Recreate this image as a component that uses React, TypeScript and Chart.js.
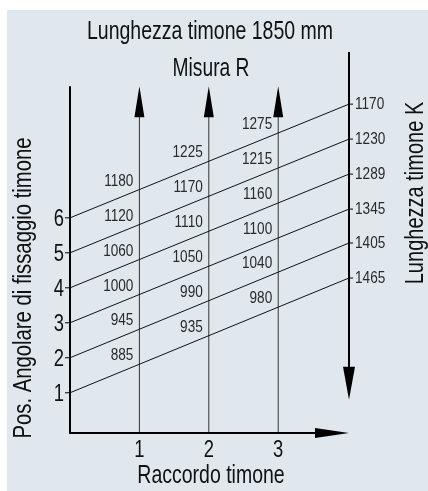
import React, { useEffect, useRef } from "react";
import { Chart, registerables } from "chart.js";

Chart.register(...registerables);

// ---- data ----
const TITLE = "Lunghezza timone 1850 mm";
const SUBTITLE = "Misura R";
const X_TITLE = "Raccordo timone";
const Y_TITLE = "Pos. Angolare di fissaggio timone";
const K_TITLE = "Lunghezza timone K";

const R_COLUMNS = [1, 2, 3];
const Y_TICKS = [1, 2, 3, 4, 5, 6];
const LINE_START = [1, 2, 3, 4, 5, 6];
const LINE_END = [4.28, 5.28, 6.25, 7.25, 8.25, 9.25];
const K_VALUES = [1465, 1405, 1345, 1289, 1230, 1170];
const R_AT_1 = [885, 945, 1000, 1060, 1120, 1180];
const R_AT_2 = [935, 990, 1050, 1110, 1170, 1225];
const R_AT_3 = [980, 1040, 1100, 1160, 1215, 1275];
const R_LABELS = [R_AT_1, R_AT_2, R_AT_3];

// ---- geometry in value space ----
const X_MIN = 0;
const K_AXIS_X = 4.02;
const Y_MIN = -0.15;
const Y_MAX = 10.74;
const ARROW_TIP_Y = 9.76;
const DOWN_TIP_Y = 0.8;

const FONT = '"Liberation Sans", Arial, sans-serif';
const BG = "#e0e8ee";

const lineAt = (i: number, x: number) =>
  LINE_START[i] + ((LINE_END[i] - LINE_START[i]) * x) / K_AXIS_X;

function drawText(
  ctx: CanvasRenderingContext2D,
  str: string,
  x: number,
  y: number,
  size: number,
  sx: number,
  align: CanvasTextAlign,
  baseline: CanvasTextBaseline,
  rot = 0
) {
  ctx.save();
  ctx.translate(x, y);
  if (rot) ctx.rotate(rot);
  ctx.scale(sx, 1);
  ctx.font = `${size}px ${FONT}`;
  ctx.textAlign = align;
  ctx.textBaseline = baseline;
  ctx.fillText(str, 0, 0);
  ctx.restore();
}

const decorPlugin = {
  id: "decor",
  beforeDraw(chart: any) {
    const ctx = chart.ctx;
    ctx.save();
    ctx.fillStyle = BG;
    ctx.fillRect(7, 10, chart.width - 7, chart.height - 10);
    ctx.restore();
  },
  afterDraw(chart: any) {
    const ctx = chart.ctx;
    const xs = chart.scales.x;
    const ys = chart.scales.y;
    const px = (v: number) => xs.getPixelForValue(v);
    const py = (v: number) => ys.getPixelForValue(v);
    ctx.save();

    // axes
    ctx.strokeStyle = "#000";
    ctx.lineWidth = 2;
    ctx.beginPath();
    ctx.moveTo(px(X_MIN), py(ARROW_TIP_Y));
    ctx.lineTo(px(X_MIN), py(Y_MIN));
    ctx.lineTo(px(K_AXIS_X) - 10, py(Y_MIN));
    ctx.stroke();
    ctx.beginPath();
    ctx.moveTo(px(K_AXIS_X), ys.top);
    ctx.lineTo(px(K_AXIS_X), py(DOWN_TIP_Y) - 10);
    ctx.stroke();

    ctx.fillStyle = "#000";
    // bottom arrow
    {
      const tx = px(K_AXIS_X), ty = py(Y_MIN);
      ctx.beginPath();
      ctx.moveTo(tx, ty);
      ctx.lineTo(tx - 34, ty - 5);
      ctx.lineTo(tx - 34, ty + 5);
      ctx.closePath();
      ctx.fill();
    }
    // down arrow on K axis
    {
      const tx = px(K_AXIS_X), ty = py(DOWN_TIP_Y);
      ctx.beginPath();
      ctx.moveTo(tx, ty);
      ctx.lineTo(tx - 6, ty - 33);
      ctx.lineTo(tx + 6, ty - 33);
      ctx.closePath();
      ctx.fill();
    }
    // up arrows on R columns
    R_COLUMNS.forEach((c) => {
      const tx = px(c), ty = py(ARROW_TIP_Y);
      ctx.beginPath();
      ctx.moveTo(tx, ty);
      ctx.lineTo(tx - 5, ty + 31);
      ctx.lineTo(tx + 5, ty + 31);
      ctx.closePath();
      ctx.fill();
    });

    // tick marks
    ctx.lineWidth = 1;
    Y_TICKS.forEach((t) => {
      ctx.beginPath();
      ctx.moveTo(px(X_MIN) - 5, py(t));
      ctx.lineTo(px(X_MIN), py(t));
      ctx.stroke();
    });
    LINE_END.forEach((v) => {
      ctx.beginPath();
      ctx.moveTo(px(K_AXIS_X), py(v));
      ctx.lineTo(px(K_AXIS_X) + 4, py(v));
      ctx.stroke();
    });

    // big texts
    ctx.fillStyle = "#111";
    drawText(ctx, TITLE, 210, 39, 26, 0.75, "center", "alphabetic");
    drawText(ctx, SUBTITLE, 211, 76, 26, 0.74, "center", "alphabetic");
    drawText(ctx, X_TITLE, 211, 483, 26, 0.75, "center", "alphabetic");

    R_COLUMNS.forEach((c) => drawText(ctx, String(c), px(c), 457, 23, 0.8, "center", "alphabetic"));
    Y_TICKS.forEach((t) => drawText(ctx, String(t), px(X_MIN) - 6, py(t) + 8, 23, 0.8, "right", "alphabetic"));

    drawText(ctx, Y_TITLE, 24, 288, 26, 0.78, "center", "middle", -Math.PI / 2);
    drawText(ctx, K_TITLE, 416, 193, 26, 0.77, "center", "middle", -Math.PI / 2);

    // small numeric labels
    ctx.fillStyle = "#2a2a2a";
    K_VALUES.forEach((k, i) =>
      drawText(ctx, String(k), px(K_AXIS_X) + 6, py(LINE_END[i]), 17, 0.8, "left", "middle")
    );
    R_COLUMNS.forEach((c, ci) => {
      R_LABELS[ci].forEach((v, i) => {
        drawText(ctx, String(v), px(c) - 6, py(lineAt(i, c)) - 8.5, 17, 0.8, "right", "middle");
      });
    });

    ctx.restore();
  },
};

export default function App() {
  const ref = useRef<HTMLCanvasElement>(null);
  useEffect(() => {
    if (!ref.current) return;
    const datasets: any[] = [];
    LINE_START.forEach((s, i) => {
      datasets.push({
        data: [
          { x: X_MIN, y: s },
          { x: K_AXIS_X, y: LINE_END[i] },
        ],
        borderColor: "#111",
        borderWidth: 1,
        pointRadius: 0,
        showLine: true,
      });
    });
    R_COLUMNS.forEach((c) => {
      datasets.push({
        data: [
          { x: c, y: Y_MIN },
          { x: c, y: ARROW_TIP_Y - 0.5 },
        ],
        borderColor: "#333",
        borderWidth: 1,
        pointRadius: 0,
        showLine: true,
      });
    });
    const chart = new Chart(ref.current, {
      type: "scatter",
      data: { datasets },
      options: {
        animation: false,
        responsive: false,
        devicePixelRatio: 1,
        layout: { padding: { left: 70, right: 79, top: 52, bottom: 58 } },
        scales: {
          x: { type: "linear", min: X_MIN, max: K_AXIS_X, display: false },
          y: { type: "linear", min: Y_MIN, max: Y_MAX, display: false },
        },
        plugins: { legend: { display: false }, tooltip: { enabled: false } },
      },
      plugins: [decorPlugin],
    });
    return () => chart.destroy();
  }, []);
  return (
    <div style={{ position: "absolute", left: 0, top: 0, width: 428, height: 491, background: "#fff" }}>
      <canvas ref={ref} width={428} height={491} />
    </div>
  );
}
